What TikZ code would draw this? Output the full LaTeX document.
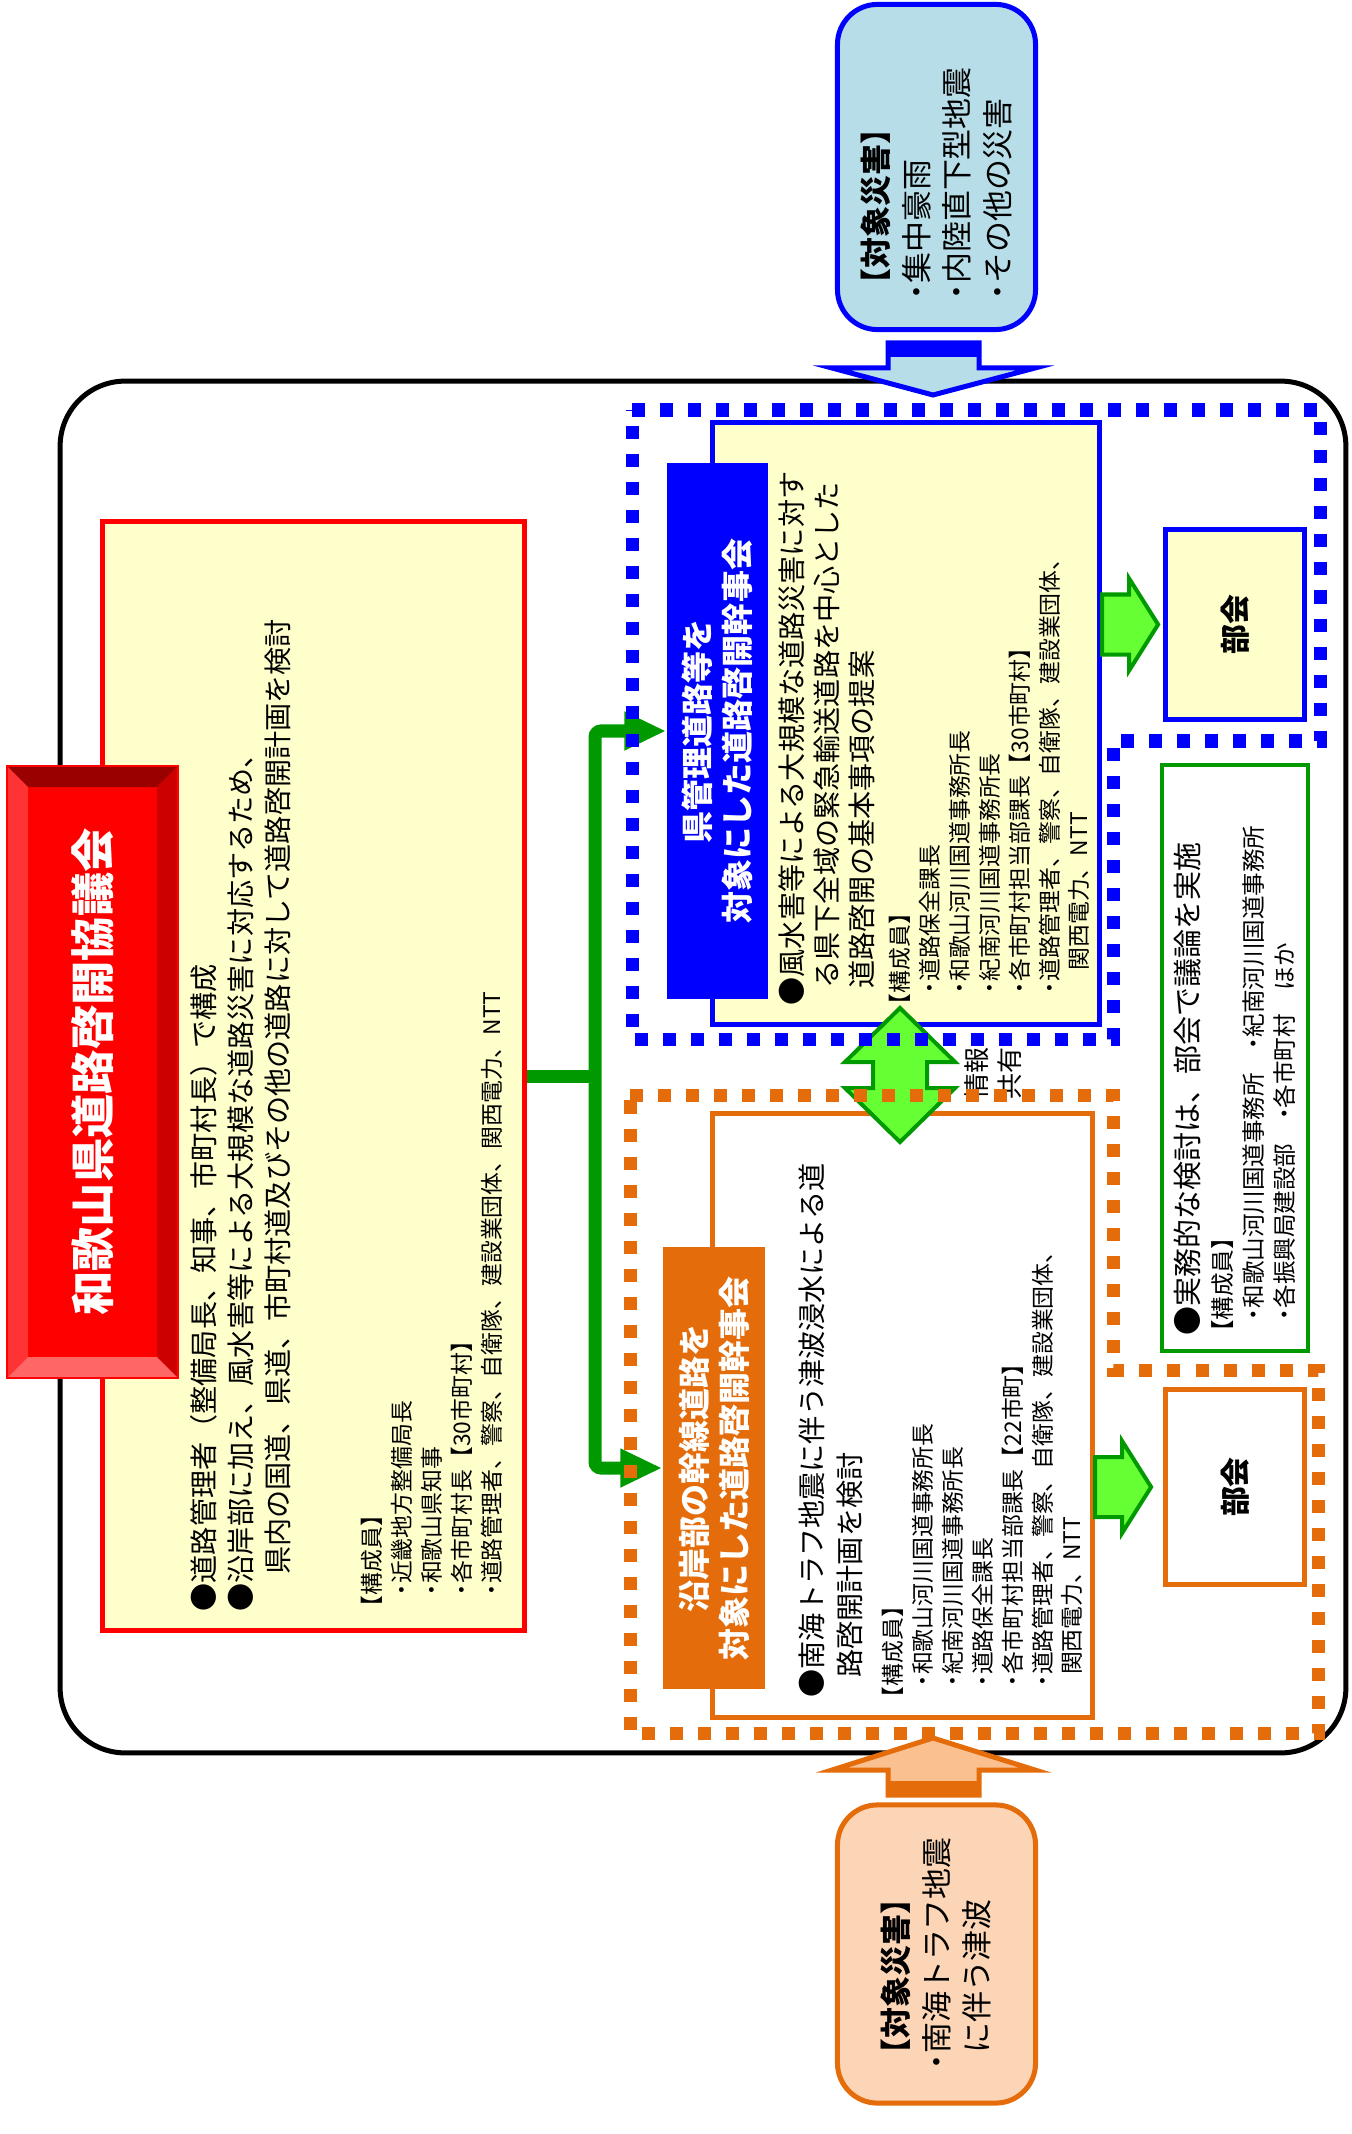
\documentclass[tikz,border=0pt]{standalone}
\usepackage{fontspec}
\setmainfont{Noto Sans CJK JP}
\usepackage{tikz}
\usetikzlibrary{arrows.meta,calc,positioning}
\definecolor{yel}{HTML}{FFFFCC}
\definecolor{org}{HTML}{E46C0A}
\definecolor{grn}{HTML}{009900}
\definecolor{lgrn}{HTML}{66FF33}
\definecolor{lblue}{HTML}{B7DEE8}
\definecolor{peach}{HTML}{FBD5B5}
\definecolor{lorg}{HTML}{FAC090}
\newcommand\nakaguro{\makebox[0.5em]{・}}
\tikzset{>=latex}
\tikzset{
  box/.style={draw, line width=0.05cm, inner sep=0pt},
  disbox/.style={box, rounded corners=0.4cm},
  % rotated text blocks, read from bottom to top
  vtext/.style={rotate=90, anchor=north west, inner sep=0pt, align=left},
  vmid/.style={rotate=90, inner sep=0pt, align=center},
  fdis/.style={font=\fontsize{8.8pt}{11.6pt}\selectfont},
  fbody/.style={font=\fontsize{8pt}{#1}\selectfont},
  fmem/.style={font=\fontsize{6.5pt}{8.5pt}\selectfont},
  fhead/.style={font=\fontsize{9.1pt}{11.4pt}\selectfont\bfseries, text=white},
  feed/.style={draw=grn, line width=0.13cm},
  blockarrow/.style={draw=grn, fill=lgrn, line width=0.04cm, line join=miter},
  dotline/.style={line width=0.13cm, dash pattern=on 0.13cm off 0.15cm},
}
\begin{document}
\begin{tikzpicture}[x=0.01cm, y=-0.01cm]
\useasboundingbox (0,0) rectangle (1351,2134);

% outer frame
\node[box, rounded corners=0.65cm, minimum width=12.85cm, minimum height=13.71cm] (frame) at (703,1067) {};

% target disasters
\node[disbox, draw=blue, fill=lblue, minimum width=1.98cm, minimum height=3.25cm] (tdis) at (936.5,167) {};
\node[disbox, draw=org, fill=peach, minimum width=1.98cm, minimum height=2.98cm] (bdis) at (936.5,1954) {};
\node[vtext, fdis] (tdistxt) at (860,300) {{\bfseries 【対象災害】}\\\nakaguro 集中豪雨\\\nakaguro 内陸直下型地震\\\nakaguro その他の災害};
\node[vtext, fdis] (bdistxt) at (880,2070) {{\bfseries 【対象災害】}\\\nakaguro 南海トラフ地震\\\hspace*{0.5em}に伴う津波};

\draw[draw=blue, fill=lblue, line width=0.05cm, line join=miter] (888,343) -- (979,343) -- (979,368) -- (1035,368) -- (933,395) -- (832,368) -- (888,368) -- cycle;
\fill[blue] (888,343) rectangle (979,357);
\draw[draw=org, fill=lorg, line width=0.05cm, line join=miter] (888,1795) -- (979,1795) -- (979,1770) -- (1035,1770) -- (933,1738) -- (832,1770) -- (888,1770) -- cycle;
\fill[org] (888,1781) rectangle (979,1795);

% council
\node[box, draw=red, fill=yel, minimum width=4.22cm, minimum height=11.09cm] (council) at (313.5,1076) {};
\node[box, draw=red, fill=red, line width=0.02cm, minimum width=1.69cm, minimum height=6.10cm] (title) at (92.5,1072) {};
\fill[red!60!black] (8,767) -- (177,767) -- (157,787) -- (28,787) -- cycle;
\fill[red!80!white] (8,767) -- (28,787) -- (28,1357) -- (8,1377) -- cycle;
\fill[red!80!black] (177,767) -- (177,1377) -- (157,1357) -- (157,787) -- cycle;
\fill[red!60!white] (8,1377) -- (177,1377) -- (157,1357) -- (28,1357) -- cycle;
\draw[red, line width=0.02cm] (title.north west) rectangle (title.south east);
\node[vmid, font=\fontsize{12.6pt}{15pt}\selectfont\bfseries, text=white] (titletxt) at (title) {和歌山県道路啓開協議会};

\node[vtext, fbody=10.5pt] (counciltxt) at (190,1612) {●道路管理者（整備局長、知事、市町村長）で構成\\●沿岸部に加え、風水害等による大規模な道路災害に対応するため、\\\hspace*{1.3em}県内の国道、県道、市町村道及びその他の道路に対して道路啓開計画を検討};
\node[vtext, fmem] (councilmem) at (360.5,1596) {\hspace*{-1em}【構成員】\\\nakaguro 近畿地方整備局長\\\nakaguro 和歌山県知事\\\nakaguro 各市町村長【30市町村】\\\nakaguro 道路管理者、警察、自衛隊、建設業団体、関西電力、NTT};

% prefecture road committee
\node[box, draw=blue, fill=yel, minimum width=3.87cm, minimum height=6.02cm] (bbody) at (906,723.5) {};
\node[fill=blue, inner sep=0pt, minimum width=1.01cm, minimum height=5.36cm] (btitle) at (717.5,731) {};
\node[vmid, fhead] at (btitle) {県管理道路等を\\対象にした道路啓開幹事会};
\node[vtext, fbody=9.96pt] (bbodytxt) at (778,1006) {●風水害等による大規模な道路災害に対す\\\hspace*{0.6em}る県下全域の緊急輸送道路を中心とした\\\hspace*{0.6em}道路啓開の基本事項の提案};
\node[vtext, fmem] (bbodymem) at (888.5,994) {\hspace*{-1em}【構成員】\\\nakaguro 道路保全課長\\\nakaguro 和歌山河川国道事務所長\\\nakaguro 紀南河川国道事務所長\\\nakaguro 各市町村担当部課長【30市町村】\\\nakaguro 道路管理者、警察、自衛隊、建設業団体、\\\hspace*{1em}関西電力、NTT};

% coastal trunk road committee
\node[box, draw=org, fill=white, minimum width=3.80cm, minimum height=6.04cm] (obody) at (902.5,1415.5) {};
\node[fill=org, inner sep=0pt, minimum width=1.02cm, minimum height=4.42cm] (otitle) at (714,1468) {};
\node[vmid, fhead] at (otitle) {沿岸部の幹線道路を\\対象にした道路啓開幹事会};
\node[vtext, fbody=10.8pt] (obodytxt) at (798,1698) {●南海トラフ地震に伴う津波浸水による道\\\hspace*{0.7em}路啓開計画を検討};
\node[vtext, fmem] (obodymem) at (881.5,1687) {\hspace*{-1em}【構成員】\\\nakaguro 和歌山河川国道事務所長\\\nakaguro 紀南河川国道事務所長\\\nakaguro 道路保全課長\\\nakaguro 各市町村担当部課長【22市町】\\\nakaguro 道路管理者、警察、自衛隊、建設業団体、\\\hspace*{0.5em}関西電力、NTT};

% working groups
\node[box, draw=blue, fill=yel, minimum width=1.39cm, minimum height=1.90cm] (bukaiA) at (1235,624.5) {};
\node[box, draw=org, fill=white, minimum width=1.39cm, minimum height=1.95cm] (bukaiB) at (1235,1487) {};
\node[vmid, font=\fontsize{8.5pt}{10pt}\selectfont\bfseries] at (bukaiA) {部会};
\node[vmid, font=\fontsize{8.5pt}{10pt}\selectfont\bfseries] at (bukaiB) {部会};
\node[box, draw=grn, fill=white, line width=0.04cm, minimum width=1.46cm, minimum height=5.86cm] (jimu) at (1235,1058) {};
\node[vtext, font=\fontsize{8.25pt}{10pt}\selectfont] (jimutxt) at (1173.5,1336) {●実務的な検討は、部会で議論を実施};
\node[vtext, font=\fontsize{6.7pt}{8.8pt}\selectfont] (jimumem) at (1210.5,1321) {\hspace*{-1em}【構成員】\\\nakaguro 和歌山河川国道事務所\hspace{1em}\nakaguro 紀南河川国道事務所\\\nakaguro 各振興局建設部\hspace{1em}\nakaguro 各市町村\hspace{1em}ほか};

% council to committees
\coordinate (fork) at (595,1076);
\draw[feed] (council.east) -- (fork);
\draw[feed, rounded corners=0.06cm, -{Triangle[length=0.42cm, width=0.36cm]}] (fork) |- (btitle.west);
\draw[feed, rounded corners=0.06cm, -{Triangle[length=0.42cm, width=0.36cm]}] (fork) |- (otitle.west);

% information sharing
\coordinate (share) at (900,1075.5);
\draw[blockarrow] (share) ++(0,-67.5) -- ++(55,54) -- ++(-28,0) -- ++(0,26) -- ++(28,0) -- ++(-55,54) -- ++(-55,-54) -- ++(28,0) -- ++(0,-26) -- ++(-28,0) -- cycle;
\node[vmid, font=\fontsize{7.4pt}{9.4pt}\selectfont] (sharetxt) at (993,1073) {情報\\共有};

% committees to working groups
\foreach \wg/\bd in {bukaiA/bbody, bukaiB/obody}
  \draw[blockarrow] (\bd.east |- \wg.west) ++(0,-30) -- ++(27,0) -- ++(0,-16) -- ++(29,46) -- ++(-29,46) -- ++(0,-16) -- ++(-27,0) -- cycle;

% committee areas
\draw[dotline, blue] (632,410) -- (1320,410) -- (1320,741) -- (1113,741) -- (1113,1039) -- (632,1039) -- cycle;
\draw[dotline, org] (630,1095) -- (1113,1095) -- (1113,1370) -- (1318,1370) -- (1318,1733) -- (630,1733) -- cycle;
\end{tikzpicture}
\end{document}
